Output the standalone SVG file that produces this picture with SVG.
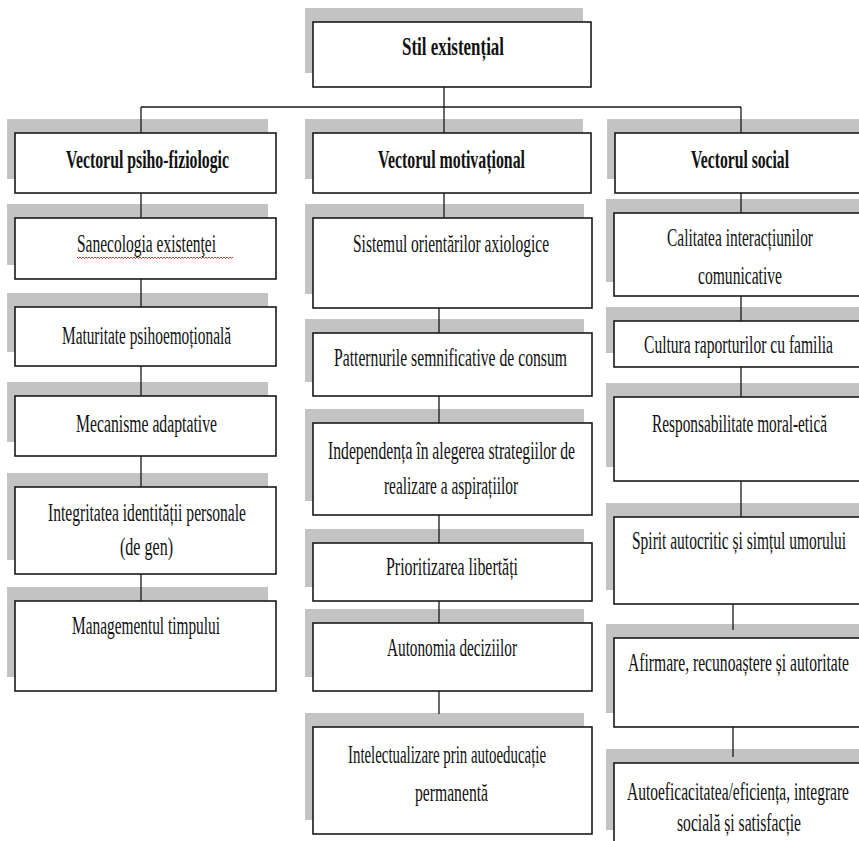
<svg xmlns="http://www.w3.org/2000/svg" width="859" height="841" viewBox="0 0 859 841">
<style>
.sh{fill:#c3c3c3}
.bx{fill:#fff;stroke:#1a1a1a;stroke-width:1.6}
.t{font-family:"Liberation Serif","Times New Roman",serif;font-size:25px;fill:#111}
.b{font-weight:bold}
.c{stroke:#1a1a1a;stroke-width:1.3;fill:none}
.sq{stroke:#e03030;stroke-width:1;fill:none}
</style>
<rect width="859" height="841" fill="#fff"/>
<g id="stil"><rect class="sh" x="305" y="8" width="278" height="65"/><rect class="bx" x="313" y="22" width="278" height="65"/><text class="t b" x="402" y="55" textLength="102" lengthAdjust="spacingAndGlyphs">Stil existențial</text></g>
<g id="v1"><rect class="sh" x="7" y="119" width="261" height="60"/><rect class="bx" x="15" y="133" width="261" height="60"/><text class="t b" x="66" y="168" textLength="163" lengthAdjust="spacingAndGlyphs">Vectorul psiho-fiziologic</text></g>
<g id="v2"><rect class="sh" x="305" y="119" width="278" height="60"/><rect class="bx" x="313" y="133" width="278" height="60"/><text class="t b" x="378" y="168" textLength="147" lengthAdjust="spacingAndGlyphs">Vectorul motivațional</text></g>
<g id="v3"><rect class="sh" x="607" y="119" width="270" height="60"/><rect class="bx" x="615" y="133" width="270" height="60"/><text class="t b" x="691" y="168" textLength="98" lengthAdjust="spacingAndGlyphs">Vectorul social</text></g>
<g id="l1"><rect class="sh" x="7" y="204" width="261" height="61"/><rect class="bx" x="15" y="218" width="261" height="61"/><text class="t" x="77" y="252" textLength="139" lengthAdjust="spacingAndGlyphs">Sanecologia existenţei</text><path class="sq" d="M77 257l1.5 1.5 1.5-1.5 1.5 1.5 1.5-1.5 1.5 1.5 1.5-1.5 1.5 1.5 1.5-1.5 1.5 1.5 1.5-1.5 1.5 1.5 1.5-1.5 1.5 1.5 1.5-1.5 1.5 1.5 1.5-1.5 1.5 1.5 1.5-1.5 1.5 1.5 1.5-1.5 1.5 1.5 1.5-1.5 1.5 1.5 1.5-1.5 1.5 1.5 1.5-1.5 1.5 1.5 1.5-1.5 1.5 1.5 1.5-1.5 1.5 1.5 1.5-1.5 1.5 1.5 1.5-1.5 1.5 1.5 1.5-1.5 1.5 1.5 1.5-1.5 1.5 1.5 1.5-1.5 1.5 1.5 1.5-1.5 1.5 1.5 1.5-1.5 1.5 1.5 1.5-1.5 1.5 1.5 1.5-1.5 1.5 1.5 1.5-1.5 1.5 1.5 1.5-1.5 1.5 1.5 1.5-1.5 1.5 1.5 1.5-1.5 1.5 1.5 1.5-1.5M158 257l1.5 1.5 1.5-1.5 1.5 1.5 1.5-1.5 1.5 1.5 1.5-1.5 1.5 1.5 1.5-1.5 1.5 1.5 1.5-1.5 1.5 1.5 1.5-1.5 1.5 1.5 1.5-1.5 1.5 1.5 1.5-1.5 1.5 1.5 1.5-1.5 1.5 1.5 1.5-1.5 1.5 1.5 1.5-1.5 1.5 1.5 1.5-1.5 1.5 1.5 1.5-1.5 1.5 1.5 1.5-1.5 1.5 1.5 1.5-1.5 1.5 1.5 1.5-1.5 1.5 1.5 1.5-1.5 1.5 1.5 1.5-1.5 1.5 1.5 1.5-1.5 1.5 1.5 1.5-1.5 1.5 1.5 1.5-1.5 1.5 1.5 1.5-1.5 1.5 1.5 1.5-1.5 1.5 1.5 1.5-1.5 1.5 1.5 1.5-1.5"/></g>
<g id="l2"><rect class="sh" x="7" y="293" width="261" height="59"/><rect class="bx" x="15" y="307" width="261" height="59"/><text class="t" x="62" y="344" textLength="169" lengthAdjust="spacingAndGlyphs">Maturitate psihoemoțională</text></g>
<g id="l3"><rect class="sh" x="7" y="382" width="261" height="60"/><rect class="bx" x="15" y="396" width="261" height="60"/><text class="t" x="76" y="432" textLength="141" lengthAdjust="spacingAndGlyphs">Mecanisme adaptative</text></g>
<g id="l4"><rect class="sh" x="7" y="473" width="261" height="87"/><rect class="bx" x="15" y="487" width="261" height="87"/><text class="t" x="48" y="521" textLength="198" lengthAdjust="spacingAndGlyphs">Integritatea identității personale</text><text class="t" x="120" y="555" textLength="53" lengthAdjust="spacingAndGlyphs">(de gen)</text></g>
<g id="l5"><rect class="sh" x="7" y="587" width="261" height="90"/><rect class="bx" x="15" y="601" width="261" height="90"/><text class="t" x="72" y="634" textLength="148" lengthAdjust="spacingAndGlyphs">Managementul timpului</text></g>
<g id="m1"><rect class="sh" x="305" y="204" width="279" height="90"/><rect class="bx" x="313" y="218" width="279" height="90"/><text class="t" x="353" y="252" textLength="196" lengthAdjust="spacingAndGlyphs">Sistemul orientărilor axiologice</text></g>
<g id="m2"><rect class="sh" x="305" y="319" width="279" height="63"/><rect class="bx" x="313" y="333" width="279" height="63"/><text class="t" x="334" y="366" textLength="233" lengthAdjust="spacingAndGlyphs">Patternurile semnificative de consum</text></g>
<g id="m3"><rect class="sh" x="305" y="409" width="279" height="92"/><rect class="bx" x="313" y="423" width="279" height="92"/><text class="t" x="328" y="459" textLength="247" lengthAdjust="spacingAndGlyphs">Independența în alegerea strategiilor de</text><text class="t" x="384" y="494" textLength="134" lengthAdjust="spacingAndGlyphs">realizare a aspirațiilor</text></g>
<g id="m4"><rect class="sh" x="305" y="529" width="279" height="58"/><rect class="bx" x="313" y="543" width="279" height="58"/><text class="t" x="386" y="575" textLength="132" lengthAdjust="spacingAndGlyphs">Prioritizarea libertăți</text></g>
<g id="m5"><rect class="sh" x="305" y="609" width="279" height="68"/><rect class="bx" x="313" y="623" width="279" height="68"/><text class="t" x="387" y="656" textLength="130" lengthAdjust="spacingAndGlyphs">Autonomia deciziilor</text></g>
<g id="m6"><rect class="sh" x="305" y="713" width="279" height="107"/><rect class="bx" x="313" y="727" width="279" height="107"/><text class="t" x="348" y="763" textLength="198" lengthAdjust="spacingAndGlyphs">Intelectualizare prin autoeducație</text><text class="t" x="415" y="801" textLength="73" lengthAdjust="spacingAndGlyphs">permanentă</text></g>
<g id="r1"><rect class="sh" x="606" y="199" width="270" height="83"/><rect class="bx" x="614" y="213" width="270" height="83"/><text class="t" x="667" y="246" textLength="146" lengthAdjust="spacingAndGlyphs">Calitatea interacțiunilor</text><text class="t" x="698" y="284" textLength="84" lengthAdjust="spacingAndGlyphs">comunicative</text></g>
<g id="r2"><rect class="sh" x="606" y="307" width="270" height="46"/><rect class="bx" x="614" y="321" width="270" height="46"/><text class="t" x="644" y="353" textLength="189" lengthAdjust="spacingAndGlyphs">Cultura raporturilor cu familia</text></g>
<g id="r3"><rect class="sh" x="606" y="383" width="270" height="84"/><rect class="bx" x="614" y="397" width="270" height="84"/><text class="t" x="652" y="432" textLength="175" lengthAdjust="spacingAndGlyphs">Responsabilitate moral-etică</text></g>
<g id="r4"><rect class="sh" x="606" y="503" width="270" height="87"/><rect class="bx" x="614" y="517" width="270" height="87"/><text class="t" x="632" y="549" textLength="214" lengthAdjust="spacingAndGlyphs">Spirit autocritic și simțul umorului</text></g>
<g id="r5"><rect class="sh" x="606" y="624" width="270" height="89"/><rect class="bx" x="614" y="638" width="270" height="89"/><text class="t" x="628" y="671" textLength="221" lengthAdjust="spacingAndGlyphs">Afirmare, recunoaștere și autoritate</text></g>
<g id="r6"><rect class="sh" x="606" y="749" width="270" height="81"/><rect class="bx" x="614" y="763" width="270" height="100"/><text class="t" x="627" y="800" textLength="222" lengthAdjust="spacingAndGlyphs">Autoeficacitatea/eficiența, integrare</text><text class="t" x="677" y="831" textLength="124" lengthAdjust="spacingAndGlyphs">socială și satisfacție</text></g>
<g id="connectors" class="c">
<path d="M444 87V107M141 107H741M141 107V133M444 107V133M741 107V133"/>
<path d="M141 193V218M141 279V307M141 366V396M141 456V487M141 574V601"/>
<path d="M444 193V218M439 308V333M439 396V423M439 515V543M439 601V623M439 691V714"/>
<path d="M741 193V213M741 296V321M741 367V397M741 481V517M733 604V630M733 727V757"/>
</g>
</svg>
